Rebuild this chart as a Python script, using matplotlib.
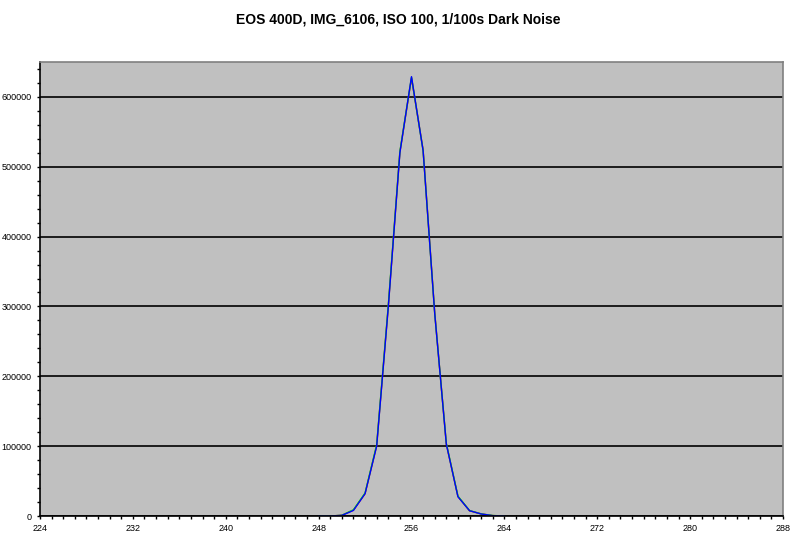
import matplotlib.pyplot as plt
from matplotlib.ticker import MultipleLocator

# Dark-noise histogram, raw level vs pixel count (per channel)
levels = [248, 249, 250, 251, 252, 253, 254, 255, 256, 257, 258, 259, 260, 261, 262, 263, 264]
red = [0, 0, 1000, 8500, 32000, 101000, 300000, 521000, 627000, 524000, 291000, 103000, 28000, 7500, 3000, 600, 0]
green = [0, 0, 1000, 9000, 33000, 102000, 302000, 522000, 628000, 523000, 290000, 104000, 28500, 7800, 3000, 700, 0]
blue = [0, 0, 900, 8000, 32000, 100000, 299000, 520000, 629000, 523000, 290000, 103000, 27600, 7600, 2900, 500, 0]

title = "EOS 400D, IMG_6106, ISO 100, 1/100s Dark Noise"

fig = plt.figure(figsize=(7.96, 5.40), dpi=100)
ax = fig.add_axes([40 / 796, 24 / 540, 743 / 796, 454 / 540])
ax.set_facecolor("#c0c0c0")

ax.plot(levels, red, color="#ff0000", linewidth=1.0)
ax.plot(levels, green, color="#00ff00", linewidth=1.0)
ax.plot(levels, blue, color="#0000ff", linewidth=1.0)

ax.set_xlim(224, 288)
ax.set_ylim(0, 650000)
ax.xaxis.set_major_locator(MultipleLocator(8))
ax.xaxis.set_minor_locator(MultipleLocator(1))
ax.yaxis.set_major_locator(MultipleLocator(100000))
ax.yaxis.set_minor_locator(MultipleLocator(20000))
ax.grid(True, axis="y", which="major", color="black", linewidth=1.2)
ax.set_axisbelow(True)

ax.tick_params(which="both", direction="out", color="black", width=1,
               length=2.5, labelsize=6.5, labelcolor="black")
ax.tick_params(axis="y", pad=3.5)
ax.tick_params(axis="x", pad=3)
for lab in ax.get_xticklabels() + ax.get_yticklabels():
    lab.set_family("Liberation Sans")

for side in ["left", "bottom"]:
    ax.spines[side].set_color("black")
    ax.spines[side].set_linewidth(1.2)
for side in ["top", "right"]:
    ax.spines[side].set_color("#808080")
    ax.spines[side].set_linewidth(1.2)

fig.text(0.5, 1 - 20 / 540, title, ha="center", va="center",
         fontsize=10, fontweight="bold", family="Liberation Sans")

fig.savefig("out.png", dpi=100)
